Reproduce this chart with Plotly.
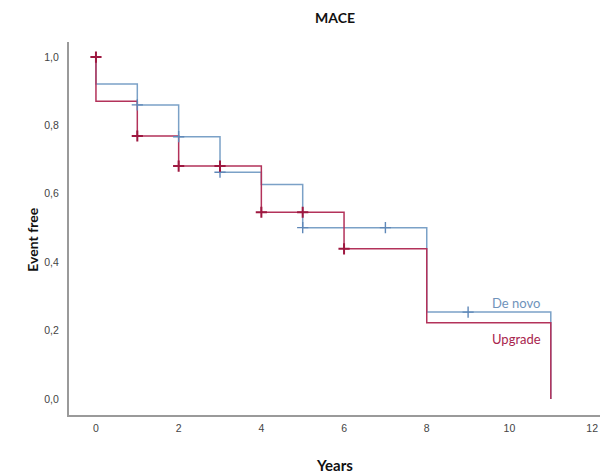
import plotly.graph_objects as go

# Step (drop) times and survival values
denovo_t = [0, 0, 1, 2, 3, 4, 5, 8, 11]
denovo_s = [1.0, 0.921, 0.860, 0.767, 0.663, 0.627, 0.501, 0.254, 0.0]
upgrade_t = [0, 0, 1, 2, 4, 6, 8, 11]
upgrade_s = [1.0, 0.871, 0.769, 0.681, 0.546, 0.439, 0.223, 0.0]

# Censor marks
denovo_cx = [1, 2, 3, 5, 7, 9]
denovo_cy = [0.860, 0.767, 0.663, 0.501, 0.501, 0.254]
upgrade_cx = [0, 1, 2, 3, 4, 5, 6]
upgrade_cy = [1.0, 0.769, 0.681, 0.681, 0.546, 0.546, 0.439]

x_ticks = [0, 2, 4, 6, 8, 10, 12]
y_ticks = [0.0, 0.2, 0.4, 0.6, 0.8, 1.0]

BLUE = "#7ba1c7"
BLUE_M = "#5f88b8"
RED = "#b3325a"
RED_M = "#9e1840"

fig = go.Figure()
fig.add_trace(go.Scatter(x=denovo_t, y=denovo_s, mode="lines", line_shape="hv",
                         line=dict(color=BLUE, width=1.5), name="De novo", showlegend=False))
fig.add_trace(go.Scatter(x=upgrade_t, y=upgrade_s, mode="lines", line_shape="hv",
                         line=dict(color=RED, width=1.5), name="Upgrade", showlegend=False))
fig.add_trace(go.Scatter(x=denovo_cx, y=denovo_cy, mode="markers",
                         marker=dict(symbol="cross-thin", size=8, line=dict(color=BLUE_M, width=1.4)),
                         showlegend=False))
fig.add_trace(go.Scatter(x=upgrade_cx, y=upgrade_cy, mode="markers",
                         marker=dict(symbol="cross-thin", size=8, line=dict(color=RED_M, width=2)),
                         showlegend=False))

fig.add_annotation(x=10.17, y=0.281, text="De novo", showarrow=False,
                   font=dict(family="Lato", size=13, color="#6f93bb"))
fig.add_annotation(x=10.17, y=0.175, text="Upgrade", showarrow=False,
                   font=dict(family="Lato", size=13, color="#a8244d"))

# Titles
fig.add_annotation(xref="paper", yref="paper", x=0.5, y=1.0, yshift=25,
                   xanchor="center", yanchor="middle",
                   text="<b>MACE</b>", showarrow=False,
                   font=dict(family="Lato", size=14, color="#111"))
fig.add_annotation(xref="paper", yref="paper", x=0.5, y=0.0, yshift=-50,
                   xanchor="center", yanchor="middle",
                   text="<b>Years</b>", showarrow=False,
                   font=dict(family="Lato", size=15, color="#111"))
fig.add_annotation(xref="paper", yref="paper", x=0.0, y=0.47, xshift=-36,
                   xanchor="center", yanchor="middle",
                   text="<b>Event free</b>", textangle=-90, showarrow=False,
                   font=dict(family="Lato", size=14, color="#111"))

fig.update_layout(
    width=603, height=476,
    margin=dict(l=69, r=3, t=42, b=61, autoexpand=False),
    paper_bgcolor="white", plot_bgcolor="white",
    separators=",.",
    xaxis=dict(range=[-0.652, 12.19], tickvals=x_ticks, showgrid=False, zeroline=False,
               showline=True, linecolor="#9a9a9a", linewidth=2, ticks="",
               ticklabelstandoff=2, automargin=False,
               tickfont=dict(family="Liberation Sans", size=10.5, color="#444")),
    yaxis=dict(range=[-0.047, 1.044], tickvals=y_ticks, tickformat=".1f", showgrid=False,
               zeroline=False, showline=True, linecolor="#9a9a9a", linewidth=2, ticks="",
               ticklabelstandoff=6, automargin=False,
               tickfont=dict(family="Liberation Sans", size=10.5, color="#444")),
)

fig.write_html("out.html", config={"displayModeBar": False},
               post_script="document.body.style.margin='0';document.body.style.overflow='hidden';")
